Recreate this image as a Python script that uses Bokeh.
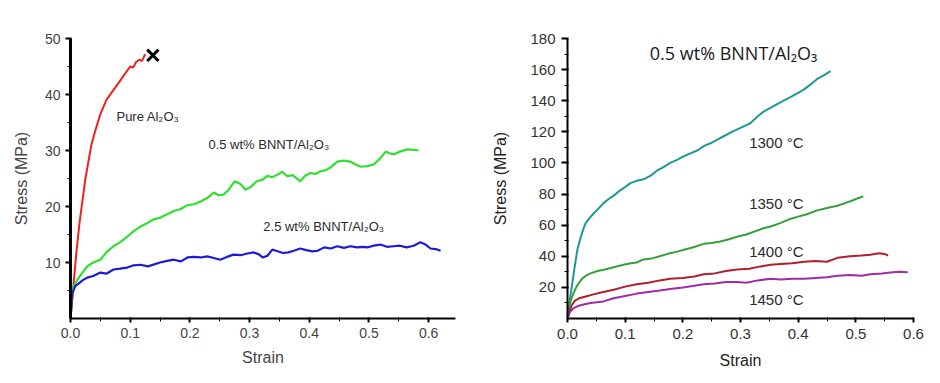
from bokeh.plotting import figure
from bokeh.layouts import row
from bokeh.models import Range1d, FixedTicker, Label
from bokeh.embed import file_html
from bokeh.resources import INLINE

# ---------------- data: left panel (room temperature) ----------------
pure_strain = [0, 0.005, 0.01, 0.015, 0.02, 0.025, 0.03, 0.035, 0.04, 0.05, 0.06, 0.07, 0.08, 0.09, 0.1,
               0.105, 0.11, 0.115, 0.12, 0.125]
pure_stress = [0, 6, 12, 17, 21, 25, 28, 31, 33, 36.5, 39, 40.5, 42, 43.5, 45, 44.8, 45.8, 46.2, 46.0, 47.2]

bnnt05_strain = [0, 0.004, 0.012, 0.02, 0.028, 0.038, 0.05, 0.06, 0.072, 0.083, 0.095, 0.106, 0.117, 0.128,
                 0.139, 0.15, 0.162, 0.173, 0.184, 0.195, 0.207, 0.218, 0.229, 0.24, 0.248, 0.256, 0.265,
                 0.275, 0.285, 0.293, 0.302, 0.312, 0.322, 0.33, 0.338, 0.347, 0.355, 0.363, 0.372, 0.385,
                 0.393, 0.402, 0.41, 0.419, 0.428, 0.436, 0.447, 0.458, 0.469, 0.478, 0.486, 0.497, 0.508,
                 0.518, 0.528, 0.535, 0.541, 0.552, 0.564, 0.574, 0.583]
bnnt05_stress = [0, 5.5, 7, 8.2, 9.3, 10, 10.5, 11.8, 12.9, 13.6, 14.6, 15.6, 16.4, 17, 17.7, 18, 18.6, 19.2,
                 19.5, 20.2, 20.4, 20.9, 21.5, 22.5, 22.0, 22.1, 23, 24.5, 24, 23, 23.5, 24.5, 24.8, 25.5,
                 25.2, 25.7, 26.2, 25.4, 25.6, 24.5, 25.5, 26, 25.8, 26.3, 26.5, 27, 28, 28.2, 28, 27.5, 27.1,
                 27.2, 27.5, 28.5, 29.8, 29.5, 29.3, 29.8, 30.2, 30.1, 30]

bnnt25_strain = [0, 0.003, 0.008, 0.012, 0.02, 0.028, 0.038, 0.05, 0.06, 0.072, 0.083, 0.095, 0.106, 0.117,
                 0.13, 0.15, 0.162, 0.173, 0.185, 0.196, 0.207, 0.218, 0.229, 0.24, 0.251, 0.262, 0.273,
                 0.285, 0.296, 0.307, 0.315, 0.322, 0.33, 0.338, 0.347, 0.356, 0.365, 0.374, 0.385, 0.395,
                 0.405, 0.414, 0.425, 0.436, 0.447, 0.458, 0.469, 0.48, 0.49, 0.497, 0.508, 0.519, 0.53,
                 0.541, 0.552, 0.563, 0.575, 0.586, 0.595, 0.603, 0.612, 0.62]
bnnt25_stress = [0, 4.5, 5.8, 6.1, 6.8, 7.3, 7.6, 8.2, 8.0, 8.75, 8.9, 9.1, 9.5, 9.6, 9.3, 10.0, 10.3, 10.5,
                 10.2, 10.9, 11.0, 10.9, 11.1, 10.8, 10.5, 11.0, 11.4, 11.3, 11.6, 11.8, 11.5, 10.9, 11.2,
                 12.3, 12.0, 11.7, 11.8, 12.1, 12.5, 12.2, 12.0, 12.1, 12.7, 12.5, 12.9, 12.6, 12.9, 12.7,
                 12.8, 12.7, 13.0, 13.2, 12.8, 12.9, 13.0, 12.7, 13.0, 13.6, 13.2, 12.5, 12.4, 12.1]

fracture_strain = [0.138]
fracture_stress = [47]

left_x_ticks = [0.0, 0.1, 0.2, 0.3, 0.4, 0.5, 0.6]
left_x_minor = [0.05, 0.15, 0.25, 0.35, 0.45, 0.55]
left_y_ticks = [10, 20, 30, 40, 50]
left_y_minor = [5, 15, 25, 35, 45]

# ---------------- data: right panel (0.5 wt% BNNT/Al2O3 at temperature) ----------------
t1300_strain = [0, 0.004, 0.008, 0.012, 0.017, 0.022, 0.027, 0.031, 0.037, 0.044, 0.052, 0.062, 0.072, 0.08,
                0.09, 0.1, 0.109, 0.12, 0.132, 0.145, 0.155, 0.165, 0.178, 0.19, 0.2, 0.212, 0.225, 0.237,
                0.25, 0.26, 0.27, 0.285, 0.3, 0.317, 0.33, 0.34, 0.355, 0.369, 0.385, 0.4, 0.409, 0.42,
                0.433, 0.445, 0.456]
t1300_stress = [0, 12, 22, 32, 44, 51, 57, 61, 64, 67, 70, 74, 77, 79, 82, 84.5, 87, 88.5, 89.5, 92, 95, 97,
                100, 102, 104, 106, 108, 111, 113, 115, 117, 120, 122.5, 125.5, 130, 133, 136, 139, 142,
                145, 147, 150, 154, 156.5, 159]

t1350_strain = [0, 0.003, 0.006, 0.01, 0.015, 0.02, 0.025, 0.032, 0.04, 0.052, 0.065, 0.08, 0.097, 0.11,
                0.12, 0.132, 0.145, 0.16, 0.178, 0.19, 0.205, 0.22, 0.236, 0.25, 0.265, 0.28, 0.294, 0.31,
                0.325, 0.34, 0.355, 0.37, 0.386, 0.4, 0.415, 0.433, 0.45, 0.468, 0.48, 0.495, 0.505, 0.513]
t1350_stress = [0, 7, 12, 16, 20, 23, 25.5, 27.5, 29, 30.5, 31.5, 33, 34.5, 35.5, 36, 38, 38.5, 40, 42, 43,
                44.5, 46, 48, 48.5, 49.5, 51, 52.5, 54, 56, 58, 59.5, 61.5, 64, 65.5, 67, 69.5, 71, 72.5,
                74, 76, 77.5, 78.5]

t1400_strain = [0, 0.004, 0.008, 0.013, 0.02, 0.03, 0.045, 0.062, 0.08, 0.1, 0.12, 0.14, 0.16, 0.178, 0.2,
                0.22, 0.236, 0.255, 0.275, 0.294, 0.315, 0.335, 0.352, 0.37, 0.39, 0.41, 0.43, 0.45, 0.468,
                0.49, 0.51, 0.525, 0.54, 0.55, 0.556]
t1400_stress = [0, 5, 9, 11.5, 13, 14, 15.5, 17, 18.5, 20.5, 22, 23, 24.5, 25.5, 26, 27, 28.5, 29, 30.5,
                31.5, 32, 33.5, 34.5, 35, 35.5, 36.5, 37, 36.5, 39, 40, 40.5, 41, 42, 41.5, 40.5]

t1450_strain = [0, 0.004, 0.01, 0.018, 0.028, 0.04, 0.062, 0.08, 0.1, 0.12, 0.14, 0.16, 0.178, 0.2, 0.22,
                0.236, 0.255, 0.275, 0.294, 0.31, 0.33, 0.352, 0.37, 0.39, 0.41, 0.43, 0.45, 0.468, 0.49,
                0.51, 0.525, 0.545, 0.56, 0.575, 0.59]
t1450_stress = [0, 4, 6.5, 8, 9, 10, 11, 13, 14.5, 16, 17, 18, 19, 20, 21, 22, 22.5, 23.5, 23.5, 23, 24.5,
                25.5, 25, 25.5, 25.5, 26, 26.5, 27.5, 28, 27.5, 28.5, 29, 29.5, 30, 29.7]

right_x_ticks = [0.0, 0.1, 0.2, 0.3, 0.4, 0.5, 0.6]
right_x_minor = [0.05, 0.15, 0.25, 0.35, 0.45, 0.55]
right_y_ticks = [20, 40, 60, 80, 100, 120, 140, 160, 180]
right_y_minor = [10, 30, 50, 70, 90, 110, 130, 150, 170]

FONT = "Liberation Sans"


def style_axes(p, ax_width_x, ax_width_y, tick_size, x_tick_out, y_tick_out):
    for ax, lw, tout in ((p.xaxis[0], ax_width_x, x_tick_out), (p.yaxis[0], ax_width_y, y_tick_out)):
        ax.axis_line_width = lw
        ax.major_tick_line_width = 2
        ax.major_tick_out = tout
        ax.major_tick_in = 1
        ax.minor_tick_out = 3
        ax.minor_tick_in = 1
        ax.major_label_text_font = FONT
        ax.major_label_text_font_size = f"{tick_size}px"
        ax.axis_label_text_font = FONT
        ax.axis_label_text_font_size = "16px"
        ax.axis_label_text_font_style = "normal"


# ---------------- left figure ----------------
left = figure(width=478, height=378, output_backend="svg", toolbar_location=None,
              x_range=Range1d(0, 0.645), y_range=Range1d(0, 50),
              min_border_left=70, min_border_right=23, min_border_top=38, min_border_bottom=59,
              x_axis_label="Strain", y_axis_label="Stress (MPa)")
left.xaxis[0].ticker = FixedTicker(ticks=left_x_ticks, minor_ticks=left_x_minor)
left.yaxis[0].ticker = FixedTicker(ticks=left_y_ticks, minor_ticks=left_y_minor)
left.xaxis[0].major_label_overrides = {t: f"{t:.1f}" for t in left_x_ticks}
style_axes(left, 2, 3, 14, 4, 5)
left.outline_line_color = None
left.xgrid.grid_line_color = None
left.ygrid.grid_line_color = None
left.xaxis[0].axis_label_standoff = 8
left.yaxis[0].axis_label_standoff = 12

left.line(pure_strain, pure_stress, line_color="#f02020", line_width=2)
left.line(bnnt05_strain, bnnt05_stress, line_color="#30e030", line_width=2.2)
left.line(bnnt25_strain, bnnt25_stress, line_color="#1c1cd8", line_width=2.2)
left.scatter(fracture_strain, fracture_stress, marker="x", size=16, line_width=3, line_color="black")

for txt, x, y in (("Pure Al\u2082O\u2083", 0.077, 36.0),
                  ("0.5 wt% BNNT/Al\u2082O\u2083", 0.231, 31.0),
                  ("2.5 wt% BNNT/Al\u2082O\u2083", 0.323, 16.4)):
    left.add_layout(Label(x=x, y=y, text=txt, text_font=FONT, text_font_size="13px",
                          text_color="#2a2a2a", text_align="left", text_baseline="middle"))

# ---------------- right figure ----------------
right = figure(width=452, height=378, output_backend="svg", toolbar_location=None,
               x_range=Range1d(0, 0.6), y_range=Range1d(0, 180),
               min_border_left=89, min_border_right=17, min_border_top=27, min_border_bottom=60,
               x_axis_label="Strain", y_axis_label="Stress (MPa)")
right.xaxis[0].ticker = FixedTicker(ticks=right_x_ticks, minor_ticks=right_x_minor)
right.yaxis[0].ticker = FixedTicker(ticks=right_y_ticks, minor_ticks=right_y_minor)
right.xaxis[0].major_label_overrides = {t: f"{t:.1f}" for t in right_x_ticks}
style_axes(right, 2, 2, 15, 4, 6)
right.outline_line_color = "white"
right.xgrid.grid_line_color = "white"
right.ygrid.grid_line_color = "white"
for ax in (right.xaxis[0], right.yaxis[0]):
    ax.major_label_text_color = "#333333"
    ax.axis_label_text_color = "#222222"
right.xaxis[0].major_label_standoff = 6
right.yaxis[0].major_label_standoff = 6
right.xaxis[0].axis_label_standoff = 10
right.yaxis[0].axis_label_standoff = 18

right.line(t1300_strain, t1300_stress, line_color="#1e9a94", line_width=2)
right.line(t1350_strain, t1350_stress, line_color="#35a035", line_width=2)
right.line(t1400_strain, t1400_stress, line_color="#b0202c", line_width=2)
right.line(t1450_strain, t1450_stress, line_color="#a02aa8", line_width=2)

for txt, y in (("1300 \u00b0C", 113.2), ("1350 \u00b0C", 74.2), ("1400 \u00b0C", 43.3), ("1450 \u00b0C", 12.4)):
    right.add_layout(Label(x=0.315, y=y, text=txt, text_font=FONT, text_font_size="15px",
                           text_color="#2a2a2a", text_align="left", text_baseline="middle"))

right.add_layout(Label(x=0.288, y=170.5, text="0.5 wt% BNNT/Al\u2082O\u2083", text_font="Open Sans",
                       text_font_size="18px", text_color="#1a1a1a", text_align="center",
                       text_baseline="middle"))

layout = row(left, right)
open("out.html", "w").write(file_html(layout, INLINE))
